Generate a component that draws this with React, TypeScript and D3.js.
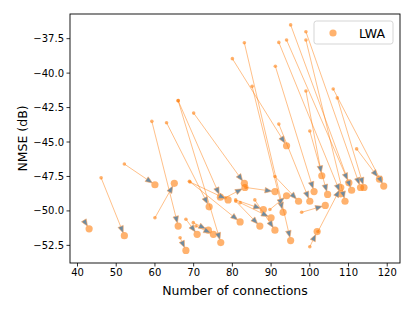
import * as d3 from 'd3';

// arrow start (small dot) and end (LWA point)
const START_X = [41.9, 46.1, 52.1, 59.2, 63.0, 66.0, 66.0, 70.0, 60.0, 66.5, 68.0, 69.9, 70.6, 69.05, 68.9,
  80.0, 83.1, 85.1, 91.1, 92.0, 92.0, 94.0, 95.05, 99.0, 99.0, 99.0, 106.05, 107.1, 100.0, 112.1,
  80.85, 82.0, 80.9, 85.8, 100.0, 97.9, 91.0, 89.7, 78.1, 83.5, 102.1];
const START_Y = [-50.8, -47.6, -46.6, -43.5, -43.6, -42.0, -42.0, -42.9, -50.5, -51.95, -50.6, -50.85, -51.1, -47.9, -47.85,
  -38.95, -37.8, -40.96, -39.5, -43.7, -37.77, -37.6, -36.5, -37.0, -37.6, -41.3, -41.15, -41.8, -44.2, -45.5,
  -49.2, -49.4, -49.3, -49.2, -52.6, -50.1, -47.5, -49.9, -49.05, -48.3, -51.5];
const END_X = [43.0, 52.1, 60.0, 66.0, 74.0, 76.9, 77.0, 83.1, 65.0, 68.0, 70.9, 73.8, 75.1, 78.9, 82.0,
  94.0, 95.05, 93.1, 101.1, 100.0, 108.0, 110.1, 110.8, 113.1, 109.1, 103.1, 119.1, 114.0, 104.6, 118.0,
  88.0, 90.0, 87.1, 91.0, 101.9, 104.0, 97.1, 94.0, 83.25, 91.0, 108.0];
const END_Y = [-51.3, -51.8, -48.1, -51.1, -49.7, -49.0, -52.3, -48.0, -48.0, -52.87, -51.7, -51.4, -51.7, -49.2, -50.8,
  -45.27, -52.15, -50.1, -48.6, -49.3, -48.76, -47.96, -48.5, -48.3, -49.3, -47.45, -48.2, -48.3, -48.8, -47.7,
  -49.9, -50.5, -51.1, -51.4, -51.5, -49.6, -49.3, -48.9, -48.3, -48.6, -48.3];

const X_TICKS = [40, 50, 60, 70, 80, 90, 100, 110, 120];
const Y_TICKS = [-37.5, -40.0, -42.5, -45.0, -47.5, -50.0, -52.5];

const W = 415;
const H = 311;
const margin = { top: 14, right: 15, bottom: 48, left: 70 };
const ORANGE = '#ff7f0e';
const FONT = 'DejaVu Sans, sans-serif';

export default function App() {
  const x = d3.scaleLinear().domain([38.06, 123.3]).range([margin.left, W - margin.right]);
  const y = d3.scaleLinear().domain([-53.78, -35.71]).range([H - margin.bottom, margin.top]);
  const innerH = H - margin.bottom;

  const arrows = START_X.map((_, i) => {
    const x0 = x(START_X[i]), y0 = y(START_Y[i]);
    const x1 = x(END_X[i]), y1 = y(END_Y[i]);
    const len = Math.hypot(x1 - x0, y1 - y0) || 1;
    const ux = (x1 - x0) / len, uy = (y1 - y0) / len;
    const tipX = x1 - 3 * ux, tipY = y1 - 3 * uy;
    const bx = tipX - 7 * ux, by = tipY - 7 * uy;
    const head = [
      [tipX, tipY],
      [bx - 2.8 * uy, by + 2.8 * ux],
      [bx + 2.8 * uy, by - 2.8 * ux],
    ];
    return { x0, y0, x1, y1, bx, by, head };
  });

  return (
    <svg width={W} height={H} style={{ position: 'absolute', left: 0, top: 0 }} fontFamily={FONT}>
      <rect width={W} height={H} fill="#fff" />
      {arrows.map((a, i) => (
        <line key={'l' + i} x1={a.x0} y1={a.y0} x2={a.bx} y2={a.by} stroke={ORANGE} strokeOpacity={0.55} strokeWidth={0.9} />
      ))}
      {arrows.map((a, i) => (
        <circle key={'s' + i} cx={a.x0} cy={a.y0} r={1.8} fill={ORANGE} fillOpacity={0.6} />
      ))}
      {arrows.map((a, i) => (
        <circle key={'e' + i} cx={a.x1} cy={a.y1} r={3.6} fill={ORANGE} fillOpacity={0.6} />
      ))}
      {arrows.map((a, i) => (
        <polygon key={'h' + i} points={a.head.map((p) => p.join(',')).join(' ')}
          fill="#6e8ba0" stroke="#ffa860" strokeWidth={0.6} />
      ))}

      {/* frame */}
      <rect x={margin.left} y={margin.top} width={W - margin.left - margin.right} height={innerH - margin.top}
        fill="none" stroke="#000" strokeWidth={0.9} />

      {X_TICKS.map((t) => (
        <g key={'xt' + t} transform={`translate(${x(t)},${innerH})`}>
          <line y2={3.5} stroke="#000" strokeWidth={0.8} />
          <text y={13} textAnchor="middle" fontSize={10} fill="#000">{t}</text>
        </g>
      ))}
      {Y_TICKS.map((t) => (
        <g key={'yt' + t} transform={`translate(${margin.left},${y(t)})`}>
          <line x2={-3.5} stroke="#000" strokeWidth={0.8} />
          <text x={-6} dy="0.35em" textAnchor="end" fontSize={10} fill="#000">{'\u2212' + Math.abs(t).toFixed(1)}</text>
        </g>
      ))}

      <text x={(margin.left + W - margin.right) / 2} y={295} textAnchor="middle" fontSize={12.5} fill="#000">
        Number of connections
      </text>
      <text transform={`translate(27,${(margin.top + innerH) / 2}) rotate(-90)`} textAnchor="middle" fontSize={12.5} fill="#000">
        NMSE (dB)
      </text>

      {/* legend */}
      <g>
        <rect x={314} y={21} width={79} height={23} rx={2.5} fill="#fff" fillOpacity={0.8} stroke="#d0d0d0" strokeWidth={0.9} />
        <circle cx={333} cy={33} r={3.6} fill={ORANGE} fillOpacity={0.6} />
        <text x={359} y={37.5} fontSize={12.5} fill="#000">LWA</text>
      </g>
    </svg>
  );
}
